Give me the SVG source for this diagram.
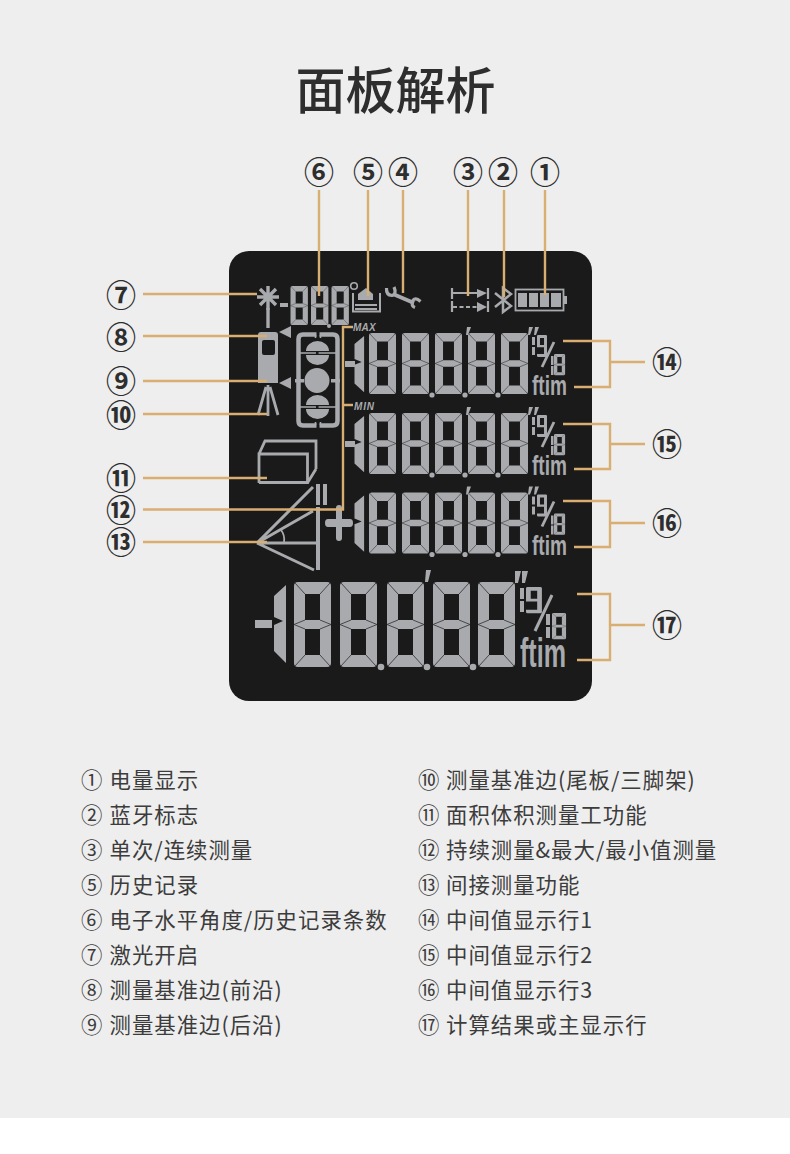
<svg xmlns="http://www.w3.org/2000/svg" xmlns:xlink="http://www.w3.org/1999/xlink" width="790" height="1154" viewBox="0 0 790 1154">
<style>
.g{fill:#a8aaad}
.gs{fill:none;stroke:#a8aaad}
.o{fill:none;stroke:#d9ae72;stroke-width:2.4}
.sep{fill:none;stroke:#3a3b3d;stroke-width:.9}
.cjk{font-family:"Noto Sans CJK SC","Noto Sans",sans-serif}
.num{font-family:"Noto Sans CJK SC",sans-serif;font-size:30px;font-weight:700;fill:#2e2e2e;text-anchor:middle}
.li{font-family:"Noto Sans CJK SC",sans-serif;font-size:21.4px;letter-spacing:1px;fill:#3c3c3c}
.ft{font-family:"Liberation Sans",Roboto,sans-serif;fill:#a8aaad}
</style>
<defs>
<g id="d8">
<path class="g" fill-rule="evenodd" d="M4 0H33Q37 0 37 4V81Q37 85 33 85H4Q0 85 0 81V4Q0 0 4 0ZM11 12H26V38H11ZM11 47H26V73H11Z"/>
<path class="sep" d="M1 1L11 12M36 1L26 12M1 84L11 73M36 84L26 73M0 42.5L11 38M0 42.5L11 47M37 42.5L26 38M37 42.5L26 47"/>
</g>
<g id="d9">
<path class="g" fill-rule="evenodd" d="M4 0H33Q37 0 37 4V81Q37 85 33 85H4Q0 85 0 81V73H26V47H0V4Q0 0 4 0ZM11 12H26V38H11Z"/>
</g>
<path id="one" class="g" d="M12 0V78L0 66V40L9 36 0 32V11Z"/>
<g id="row">
<use href="#one" transform="translate(354.5,336) scale(.8,.72)"/>
<use href="#d8" transform="translate(369,333) scale(.73,.718)"/>
<use href="#d8" transform="translate(402,333) scale(.73,.718)"/>
<use href="#d8" transform="translate(435,333) scale(.73,.718)"/>
<use href="#d8" transform="translate(468,333) scale(.73,.718)"/>
<use href="#d8" transform="translate(501,333) scale(.73,.718)"/>
<circle class="g" cx="432" cy="395" r="2.6"/><circle class="g" cx="465" cy="395" r="2.6"/><circle class="g" cx="498" cy="395" r="2.6"/>
<path class="g" d="M467 327H471L468 335H466ZM529 327H533L530 335H528ZM535 327H539L536 335H534Z"/>
<rect class="g" x="532" y="337" width="3" height="8"/><rect class="g" x="532" y="347" width="3" height="8"/>
<use href="#d9" transform="translate(537,335) scale(.27,.26)"/>
<path d="M554 342L542 367" fill="none" stroke="#a8aaad" stroke-width="2.8"/>
<rect class="g" x="551" y="356" width="2.5" height="9"/><rect class="g" x="551" y="366" width="2.5" height="9"/>
<use href="#d8" transform="translate(554,354) scale(.3,.25)"/>
<text class="ft" x="532" y="395" font-size="28" font-weight="700" textLength="35" lengthAdjust="spacingAndGlyphs">ftim</text>
</g>
</defs>

<rect width="790" height="1118" fill="#eeeeee"/>
<rect y="1118" width="790" height="36" fill="#ffffff"/>

<g id="title"><text class="cjk" x="395.500" y="109" font-size="50" font-weight="500" fill="#2e2e2e" text-anchor="middle">面板解析</text></g>

<g id="panel">
<rect x="229" y="251" width="363" height="450" rx="20" fill="#1a1a1a"/>

<g id="icon-laser">
<path class="gs" stroke-width="3.400" d="M268 286V310M257 297H279M260 289L276 305M276 289L260 305"/>
<path class="gs" stroke-width="3.400" d="M268 308V328"/>
<rect class="g" x="280" y="303" width="8" height="4"/>
</g>
<g id="icon-angle">
<use href="#d8" transform="translate(290.500,286) scale(.47,.46)"/>
<use href="#d8" transform="translate(311,286) scale(.47,.46)"/>
<use href="#d8" transform="translate(331.500,286) scale(.47,.46)"/>
<circle class="g" cx="329" cy="326" r="2"/>
<circle class="gs" stroke-width="1.600" cx="354" cy="286" r="3.300"/>
</g>
<g id="icon-history">
<path class="gs" stroke-width="2" d="M353 293V311.500H380V293"/>
<path class="g" d="M366 288L373 294V300H358V294Z"/>
<rect class="g" x="355" y="304" width="22" height="2"/><rect class="g" x="355" y="308" width="22" height="2"/>
</g>
<g id="icon-wrench">
<path class="gs" stroke-width="4" d="M393 294L414 303"/>
<path class="gs" stroke-width="3.200" d="M386.500 288Q386 295 392 295.500Q397 294 394 287M420.500 301.500Q415 296.500 412.500 301Q411 306 415 307.500"/>
</g>
<g id="icon-range">
<path class="gs" stroke-width="2.200" d="M452 288V299M452 301V312M488 288V299M488 301V312M452 293H478"/>
<path class="gs" stroke-width="2.200" stroke-dasharray="4 2.500" d="M453 307H478"/>
<path class="g" d="M477 289L487 293 477 298ZM477 302L487 307 477 312Z"/>
</g>
<g id="icon-bt">
<path class="gs" stroke-width="2.500" d="M495 293L511 306 503 312V288L511 294 495 307"/>
</g>
<g id="icon-battery">
<rect class="gs" stroke-width="1.800" x="515.500" y="289.500" width="48" height="21"/>
<rect class="g" x="518" y="293" width="9" height="14"/><rect class="g" x="529" y="293" width="9" height="14"/><rect class="g" x="540" y="293" width="9" height="14"/><rect class="g" x="551" y="293" width="10" height="14"/>
<rect class="g" x="564" y="296" width="3" height="8"/>
</g>
<g id="icon-device">
<path class="g" fill-rule="evenodd" d="M261 332H275Q278 332 278 335V383H258V335Q258 332 261 332ZM264 340Q262 340 262 342V353Q262 355 264 355H273Q275 355 275 353V342Q275 340 273 340Z"/>
<path class="g" d="M279 332L291 326V338ZM279 383L291 377V389Z"/>
<path class="gs" stroke-width="2.800" d="M268 385V416M266 387L258 415M270 387L278 415"/>
</g>
<g id="icon-level">
<path class="gs" stroke-width="4.500" d="M316.500 334.500H303Q298.500 334.500 298.500 339V421Q298.500 425.500 303 425.500H316.500M319.500 334.500H333Q337.500 334.500 337.500 339V421Q337.500 425.500 333 425.500H319.500"/>
<path class="gs" stroke-width="1.600" d="M315.500 335V338M320.500 335V338M315.500 425V422M320.500 425V422"/>
<circle class="g" cx="317" cy="380.500" r="12.500"/>
<path class="g" d="M306 351A11.500 10 0 0 1 329 351ZM306 355H329A11.500 10 0 0 1 306 355ZM306 405A11.500 10 0 0 1 329 405ZM306 409H329A11.500 10 0 0 1 306 409Z"/>
<path class="gs" stroke-width="1.400" d="M316 353H300M318.500 353H336M316 407H300M318.500 407H336"/>
<rect class="g" x="295" y="379" width="9" height="3.500"/><rect class="g" x="331" y="379" width="9" height="3.500"/>
</g>
<text class="ft" x="353" y="331" font-size="10" font-weight="700" font-style="italic" letter-spacing=".2">MAX</text>
<text class="ft" x="354" y="410" font-size="10" font-weight="700" font-style="italic" letter-spacing=".8">MIN</text>
<g id="icon-box">
<path class="gs" stroke-width="2.800" d="M259 483V454H307.500V482.500H259M259 454L265 441H316V469M316 469L308 482"/>
</g>
<g id="icon-triangle">
<path class="gs" stroke-width="3" d="M257 543L313 487M257 543L313 511M257 543H318M257 543L314 570"/>
<path class="gs" stroke-width="1.800" d="M281 530Q285 535 284 542"/>
<rect class="g" x="316" y="507" width="4" height="63"/>
<rect class="g" x="316" y="484" width="4" height="21"/><rect class="g" x="323" y="484" width="4" height="21"/>
</g>
<rect class="g" x="345" y="361" width="10" height="6"/>
<rect class="g" x="345" y="441" width="10" height="6"/>
<path class="g" d="M336 508Q336 505 339 505Q342 505 342 508V519H350Q353 519 353 523Q353 527 350 527H342V538Q342 541 339 541Q336 541 336 538V527H328Q325 527 325 523Q325 519 328 519H336Z"/>

<g id="row-1"><use href="#row"/></g>
<g id="row-2"><use href="#row" y="80"/></g>
<g id="row-3"><use href="#row" y="159.500"/></g>

<g id="row-main">
<rect class="g" x="255" y="620" width="17" height="8"/>
<use href="#one" transform="translate(274,585)"/>
<use href="#d8" transform="translate(294,582)"/>
<use href="#d8" transform="translate(340,582)"/>
<use href="#d8" transform="translate(387,582)"/>
<use href="#d8" transform="translate(433,582)"/>
<use href="#d8" transform="translate(478,582)"/>
<circle class="g" cx="381" cy="667" r="3.300"/><circle class="g" cx="427" cy="667" r="3.300"/><circle class="g" cx="473" cy="667" r="3.300"/>
<path class="g" d="M426 570H431L428 582H425ZM515 571H521L518 583H515ZM522 571H528L525 583H522Z"/>
<rect class="g" x="520" y="588" width="4" height="11"/><rect class="g" x="520" y="601" width="4" height="11"/>
<use href="#d9" transform="translate(526,587) scale(.43,.31)"/>
<path d="M552 595L535 631" fill="none" stroke="#a8aaad" stroke-width="3"/>
<rect class="g" x="546" y="614" width="4" height="11"/><rect class="g" x="546" y="627" width="4" height="11"/>
<use href="#d8" transform="translate(552,613) scale(.38,.31)"/>
<text class="ft" x="520" y="667" font-size="40" font-weight="700" textLength="46" lengthAdjust="spacingAndGlyphs">ftim</text>
</g>
</g>

<g id="connectors">
<path class="o" d="M319 190V296M368 190V296M403 190V293M468 190V296M504 190V297M545 190V295"/>
<path class="o" d="M143 294H257M143 336H267M143 381H267M143 414H267M143 478H267M143 542H267"/>
<path class="o" d="M143 509.500H343V327H353M343 405H353"/>
<path class="o" d="M563 341H610V387H574M610 362H645"/>
<path class="o" d="M563 424H610V469H574M610 444H645"/>
<path class="o" d="M563 501H610V547H574M610 523H645"/>
<path class="o" d="M577 594H610V660H577M610 625H645"/>
</g>

<g id="callouts">
<g id="c1"><text class="num" x="545" y="183">①</text></g>
<g id="c2"><text class="num" x="503" y="183">②</text></g>
<g id="c3"><text class="num" x="468" y="183">③</text></g>
<g id="c4"><text class="num" x="403" y="183">④</text></g>
<g id="c5"><text class="num" x="368" y="183">⑤</text></g>
<g id="c6"><text class="num" x="319" y="183">⑥</text></g>
<g id="c7"><text class="num" x="121" y="306">⑦</text></g>
<g id="c8"><text class="num" x="121" y="348">⑧</text></g>
<g id="c9"><text class="num" x="121" y="392">⑨</text></g>
<g id="c10"><text class="num" x="121" y="426">⑩</text></g>
<g id="c11"><text class="num" x="121" y="489">⑪</text></g>
<g id="c12"><text class="num" x="121" y="521">⑫</text></g>
<g id="c13"><text class="num" x="121" y="553">⑬</text></g>
<g id="c14"><text class="num" x="667" y="373">⑭</text></g>
<g id="c15"><text class="num" x="667" y="455">⑮</text></g>
<g id="c16"><text class="num" x="667" y="534">⑯</text></g>
<g id="c17"><text class="num" x="667" y="636">⑰</text></g>
</g>

<g id="legend">
<text class="li" y="788"><tspan x="81">①</tspan><tspan x="109.500">电量显示</tspan></text>
<text class="li" y="823"><tspan x="81">②</tspan><tspan x="109.500">蓝牙标志</tspan></text>
<text class="li" y="858"><tspan x="81">③</tspan><tspan x="109.500">单次/连续测量</tspan></text>
<text class="li" y="893"><tspan x="81">⑤</tspan><tspan x="109.500">历史记录</tspan></text>
<text class="li" y="928"><tspan x="81">⑥</tspan><tspan x="109.500">电子水平角度/历史记录条数</tspan></text>
<text class="li" y="963"><tspan x="81">⑦</tspan><tspan x="109.500">激光开启</tspan></text>
<text class="li" y="998"><tspan x="81">⑧</tspan><tspan x="109.500">测量基准边(前沿)</tspan></text>
<text class="li" y="1033"><tspan x="81">⑨</tspan><tspan x="109.500">测量基准边(后沿)</tspan></text>
<text class="li" y="788"><tspan x="418">⑩</tspan><tspan x="446">测量基准边(尾板/三脚架)</tspan></text>
<text class="li" y="823"><tspan x="418">⑪</tspan><tspan x="446">面积体积测量工功能</tspan></text>
<text class="li" y="858"><tspan x="418">⑫</tspan><tspan x="446">持续测量&amp;最大/最小值测量</tspan></text>
<text class="li" y="893"><tspan x="418">⑬</tspan><tspan x="446">间接测量功能</tspan></text>
<text class="li" y="928"><tspan x="418">⑭</tspan><tspan x="446">中间值显示行1</tspan></text>
<text class="li" y="963"><tspan x="418">⑮</tspan><tspan x="446">中间值显示行2</tspan></text>
<text class="li" y="998"><tspan x="418">⑯</tspan><tspan x="446">中间值显示行3</tspan></text>
<text class="li" y="1033"><tspan x="418">⑰</tspan><tspan x="446">计算结果或主显示行</tspan></text>
</g>
</svg>
